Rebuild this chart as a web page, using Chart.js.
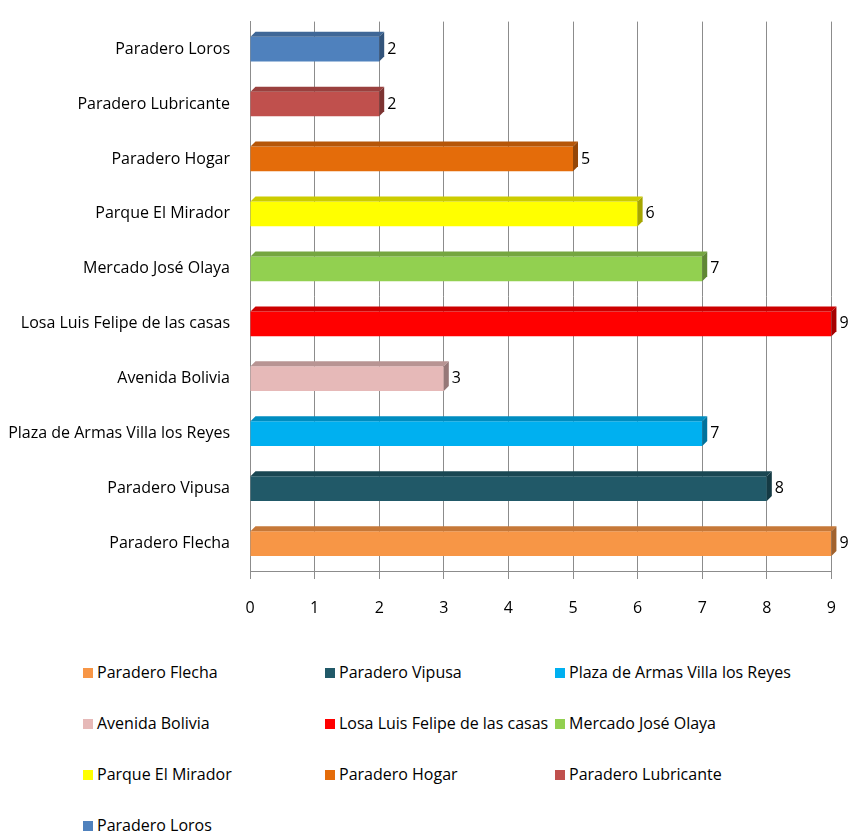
<!DOCTYPE html>
<html lang="es">
<head>
  <meta charset="UTF-8" />
  <title>Paraderos</title>
  <script src="https://cdn.jsdelivr.net/npm/chart.js"></script>
  <style>
    body {
      margin: 0;
      background: #fff;
      font-family: "Open Sans", sans-serif;
      color: #000;
    }
    .wrap {
      position: relative;
      width: 856px;
      height: 839px;
    }
    .chart-box {
      position: absolute;
      left: 0;
      top: 0;
      width: 856px;
      height: 630px;
    }
    .legend {
      position: absolute;
      left: 83px;
      top: 661px;
      display: grid;
      grid-template-columns: 242px 230px 250px;
      grid-auto-rows: 51px;
      font-size: 16px;
    }
    .legend span.box {
      display: inline-block;
      width: 10px;
      height: 10px;
      margin-right: 4px;
      vertical-align: 0px;
    }
  </style>
</head>
<body>
<div class="wrap">
  <div class="chart-box"><canvas id="bars"></canvas></div>
  <div class="legend" id="legend"></div>
</div>

<script>
  // legend order (bottom bar first)
  const places = [
    'Paradero Flecha', 'Paradero Vipusa', 'Plaza de Armas Villa los Reyes',
    'Avenida Bolivia', 'Losa Luis Felipe de las casas', 'Mercado José Olaya',
    'Parque El Mirador', 'Paradero Hogar', 'Paradero Lubricante', 'Paradero Loros'
  ];
  const counts = [9, 8, 7, 3, 9, 7, 6, 5, 2, 2];
  const barColors = [
    '#F79646', '#215968', '#00B0F0', '#E6B9B8', '#FF0000',
    '#92D050', '#FFFF00', '#E46C0A', '#C0504D', '#4F81BD'
  ];
  const xTicks = [0, 1, 2, 3, 4, 5, 6, 7, 8, 9];

  const fontName = '"Open Sans", sans-serif';

  function shade(hex, f) {
    const n = parseInt(hex.slice(1), 16);
    const r = Math.round(((n >> 16) & 255) * f);
    const g = Math.round(((n >> 8) & 255) * f);
    const b = Math.round((n & 255) * f);
    return `rgb(${r},${g},${b})`;
  }

  // fake excel 3d look + value labels
  const bar3d = {
    id: 'bar3d',
    afterDatasetsDraw(chart) {
      const ctx = chart.ctx;
      const meta = chart.getDatasetMeta(0);
      const d = 5;
      ctx.save();
      meta.data.forEach((el, i) => {
        const top = el.y - el.height / 2;
        const bot = el.y + el.height / 2;
        const left = el.base;
        const right = el.x;
        // top face
        ctx.fillStyle = shade(barColors[i], 0.8);
        ctx.beginPath();
        ctx.moveTo(left, top);
        ctx.lineTo(left + d, top - d);
        ctx.lineTo(right + d, top - d);
        ctx.lineTo(right, top);
        ctx.closePath();
        ctx.fill();
        // side face
        ctx.fillStyle = shade(barColors[i], 0.65);
        ctx.beginPath();
        ctx.moveTo(right, top);
        ctx.lineTo(right + d, top - d);
        ctx.lineTo(right + d, bot - d);
        ctx.lineTo(right, bot);
        ctx.closePath();
        ctx.fill();
        // value
        ctx.fillStyle = '#000';
        ctx.font = '16px ' + fontName;
        ctx.textBaseline = 'middle';
        ctx.textAlign = 'left';
        ctx.fillText(counts[i], right + d + 3, el.y);
      });
      ctx.restore();
    }
  };

  new Chart(document.getElementById('bars'), {
    type: 'bar',
    data: {
      labels: places,
      datasets: [{
        data: counts,
        backgroundColor: barColors,
        borderWidth: 0,
        categoryPercentage: 0.9,
        barPercentage: 0.5
      }]
    },
    options: {
      indexAxis: 'y',
      responsive: true,
      maintainAspectRatio: false,
      animation: false,
      layout: { padding: { top: 18, right: 18, left: 0, bottom: 0 } },
      plugins: {
        legend: { display: false },
        tooltip: { enabled: false }
      },
      scales: {
        x: {
          min: 0,
          max: 9,
          afterBuildTicks(axis) { axis.ticks = xTicks.map(v => ({ value: v })); },
          grid: { color: '#8c8c8c', lineWidth: 1, tickLength: 8 },
          border: { color: '#8c8c8c' },
          ticks: { color: '#000', padding: 20, font: { family: fontName, size: 16 } },
          afterFit(axis) { axis.height = 59; }
        },
        y: {
          reverse: true,
          grid: { display: false, drawTicks: true },
          border: { color: '#8c8c8c' },
          ticks: { color: '#000', padding: 12, font: { family: fontName, size: 16 } },
          afterFit(axis) { axis.width = 250; }
        }
      }
    },
    plugins: [bar3d]
  });

  const legend = document.getElementById('legend');
  places.forEach((p, i) => {
    const item = document.createElement('div');
    item.innerHTML = `<span class="box" style="background:${barColors[i]}"></span>${p}`;
    legend.appendChild(item);
  });
</script>
</body>
</html>
